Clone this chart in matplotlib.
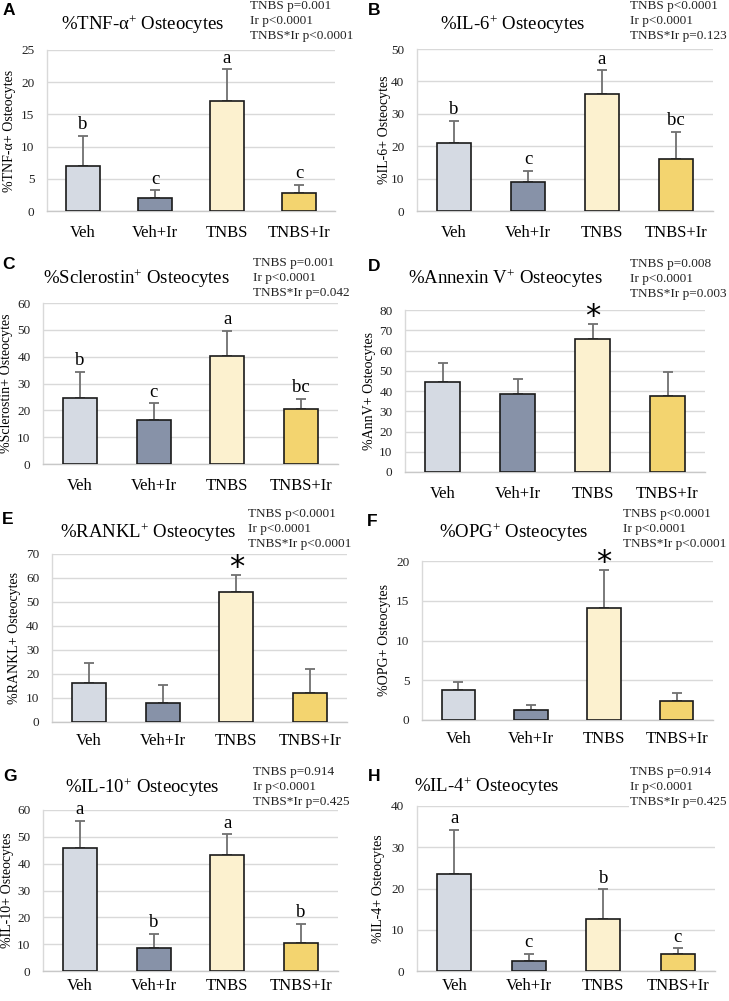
import matplotlib
matplotlib.use("Agg")
import matplotlib.pyplot as plt

plt.rcParams['font.family'] = ['Liberation Serif', 'DejaVu Serif']
plt.rcParams['mathtext.fontset'] = 'custom'
plt.rcParams['mathtext.rm'] = 'Liberation Serif'
plt.rcParams['mathtext.it'] = 'Liberation Serif:italic'

groups = ["Veh", "Veh+Ir", "TNBS", "TNBS+Ir"]
colors = ["#d5dae3", "#8792a8", "#fcf1cf", "#f3d46f"]

tnf_mean = [7.0, 2.0, 17.1, 2.8]
tnf_err = [4.7, 1.2, 4.9, 1.3]
il6_mean = [21.0, 9.0, 36.2, 16.1]
il6_err = [6.7, 3.5, 7.2, 8.4]
scl_mean = [24.7, 16.3, 40.2, 20.5]
scl_err = [9.7, 6.3, 9.4, 3.7]
ann_mean = [44.6, 38.7, 65.8, 37.4]
ann_err = [9.3, 7.3, 7.3, 12.2]
rankl_mean = [16.2, 7.8, 54.1, 12.0]
rankl_err = [8.3, 7.8, 7.1, 10.0]
opg_mean = [3.76, 1.25, 14.07, 2.34]
opg_err = [1.04, 0.67, 4.83, 1.08]
il10_mean = [45.8, 8.5, 43.2, 10.6]
il10_err = [10.1, 5.4, 7.7, 7.0]
il4_mean = [23.4, 2.4, 12.7, 4.2]
il4_err = [10.8, 1.8, 7.1, 1.3]

panels = [
    dict(letter="A", title="%TNF-α$^{+}$ Osteocytes", ylabel="%TNF-α+ Osteocytes",
         mean=tnf_mean, err=tnf_err, ymax=25, step=5, marks=["b", "c", "a", "c"],
         stats=["TNBS p=0.001", "Ir p<0.0001", "TNBS*Ir p<0.0001"],
         box=(47, 50, 335, 211), ylx=16, tt=(143, 25), st=(250, 0), lt=(3, 3), xpad=10),
    dict(letter="B", title="%IL-6$^{+}$ Osteocytes", ylabel="%IL-6+ Osteocytes",
         mean=il6_mean, err=il6_err, ymax=50, step=10, marks=["b", "c", "a", "bc"],
         stats=["TNBS p<0.0001", "Ir p<0.0001", "TNBS*Ir p=0.123"],
         box=(417, 49, 713, 211), ylx=391, tt=(513, 25), st=(630, 0), lt=(368, 3), xpad=10),
    dict(letter="C", title="%Sclerostin$^{+}$ Osteocytes", ylabel="%Sclerostin+ Osteocytes",
         mean=scl_mean, err=scl_err, ymax=60, step=10, marks=["b", "c", "a", "bc"],
         stats=["TNBS p=0.001", "Ir p<0.0001", "TNBS*Ir p=0.042"],
         box=(43, 303, 338, 464), ylx=13, tt=(136, 279), st=(253, 257), lt=(2, 257), xpad=10),
    dict(letter="D", title="%Annexin V$^{+}$ Osteocytes", ylabel="%AnnV+ Osteocytes",
         mean=ann_mean, err=ann_err, ymax=80, step=10, marks=["", "", "*", ""],
         stats=["TNBS p=0.008", "Ir p<0.0001", "TNBS*Ir p=0.003"],
         box=(405, 310, 705, 472), ylx=376, tt=(505, 279), st=(630, 258), lt=(368, 259), xpad=10),
    dict(letter="E", title="%RANKL$^{+}$ Osteocytes", ylabel="%RANKL+ Osteocytes",
         mean=rankl_mean, err=rankl_err, ymax=70, step=10, marks=["", "", "*", ""],
         stats=["TNBS p<0.0001", "Ir p<0.0001", "TNBS*Ir p<0.0001"],
         box=(52, 554, 347, 722), ylx=21, tt=(148, 533), st=(248, 508), lt=(2, 512), xpad=8),
    dict(letter="F", title="%OPG$^{+}$ Osteocytes", ylabel="%OPG+ Osteocytes",
         mean=opg_mean, err=opg_err, ymax=20, step=5, marks=["", "", "*", ""],
         stats=["TNBS p<0.0001", "Ir p<0.0001", "TNBS*Ir p<0.0001"],
         box=(422, 561, 713, 720), ylx=391, tt=(514, 533), st=(623, 508), lt=(367, 514), xpad=8),
    dict(letter="G", title="%IL-10$^{+}$ Osteocytes", ylabel="%IL-10+ Osteocytes",
         mean=il10_mean, err=il10_err, ymax=60, step=10, marks=["a", "b", "a", "b"],
         stats=["TNBS p=0.914", "Ir p<0.0001", "TNBS*Ir p=0.425"],
         box=(43, 810, 338, 971), ylx=14, tt=(142, 788), st=(253, 766), lt=(3, 769), xpad=5),
    dict(letter="H", title="%IL-4$^{+}$ Osteocytes", ylabel="%IL-4+ Osteocytes",
         mean=il4_mean, err=il4_err, ymax=40, step=10, marks=["a", "c", "b", "c"],
         stats=["TNBS p=0.914", "Ir p<0.0001", "TNBS*Ir p=0.425"],
         box=(417, 806, 715, 971), ylx=385, tt=(487, 787), st=(630, 766), lt=(368, 769), xpad=5),
]

W, H = 729, 1001
fig = plt.figure(figsize=(W / 100, H / 100), dpi=100)

for p in panels:
    l, t, r, b = p["box"]
    ax = fig.add_axes([l / W, 1 - b / H, (r - l) / W, (b - t) / H])
    x = list(range(len(groups)))
    ax.bar(x, p["mean"], width=0.46, color=colors, edgecolor="#1a1a1a",
           linewidth=1.2, zorder=3)
    ax.errorbar(x, p["mean"], yerr=[[0] * 4, p["err"]], fmt="none",
                ecolor="#707070", elinewidth=1.3, capsize=3.5, capthick=1.3, zorder=2)
    ax.set_xlim(-0.5, 3.5)
    ax.set_ylim(0, p["ymax"])
    ax.set_yticks(range(0, p["ymax"] + 1, p["step"]))
    ax.yaxis.grid(True, color="#d9d9d9", linewidth=1.0, zorder=0)
    ax.set_axisbelow(True)
    for s in ["top", "right"]:
        ax.spines[s].set_visible(False)
    ax.spines["left"].set_color("#d9d9d9")
    ax.spines["bottom"].set_color("#c8c8c8")
    ax.spines["left"].set_linewidth(1.0)
    ax.spines["bottom"].set_linewidth(1.0)
    ax.tick_params(axis="both", length=0)
    ax.tick_params(axis="y", labelsize=9.5, pad=9, labelcolor="#222222")
    ax.tick_params(axis="x", labelsize=12, pad=p["xpad"])
    ax.set_xticks(x)
    ax.set_xticklabels(groups)
    ax.set_ylabel(p["ylabel"], fontsize=10)
    ax.yaxis.set_label_coords((p["ylx"] - l) / (r - l), 0.5)
    for xi, m, e, mk in zip(x, p["mean"], p["err"], p["marks"]):
        if not mk:
            continue
        if mk == "*":
            ax.annotate("*", (xi, m + e), xytext=(0, -5), textcoords="offset points",
                        ha="center", va="bottom", fontsize=22,
                        family=["DejaVu Sans"], zorder=5)
        else:
            ax.annotate(mk, (xi, m + e), xytext=(0, 2), textcoords="offset points",
                        ha="center", va="bottom", fontsize=13.5, zorder=5)
    tx, ty = p["tt"]
    fig.text(tx / W, 1 - ty / H, p["title"], ha="center", va="center", fontsize=13.5)
    sx, sy = p["st"]
    fig.text(sx / W, 1 - sy / H, "\n".join(p["stats"]), ha="left", va="top",
             fontsize=9.5, linespacing=1.33, color="#222222",
             bbox=dict(facecolor="white", edgecolor="none", pad=1.0), zorder=10)
    lx, ly = p["lt"]
    fig.text(lx / W, 1 - ly / H, p["letter"], ha="left", va="top", fontsize=12.5,
             fontweight="bold", family=["Liberation Sans", "DejaVu Sans"])

fig.savefig("out.png", dpi=100)
